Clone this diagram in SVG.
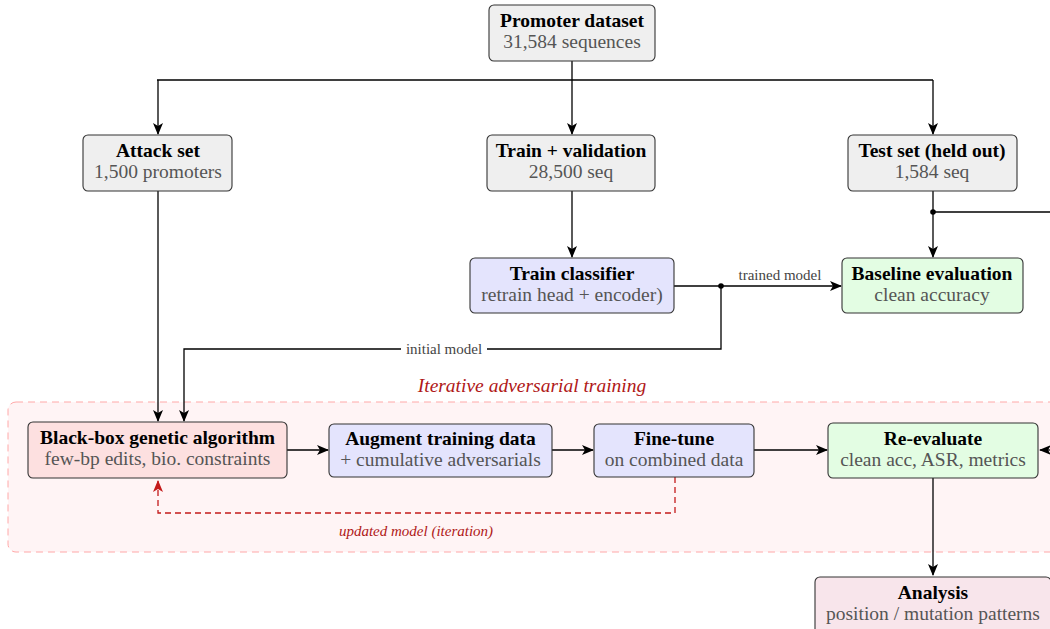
<svg xmlns="http://www.w3.org/2000/svg" width="1050" height="629" viewBox="0 0 1050 629">
<style>
.box{stroke:#333;stroke-width:1.1}
.grey{fill:#efefef}
.blue{fill:#e4e4fd}
.green{fill:#e3fde3}
.red{fill:#fde0e0}
.pink{fill:#f8e5eb}
.t{font-family:"Liberation Serif",serif;font-size:19.5px;font-weight:bold;fill:#000;text-anchor:middle}
.s{font-family:"Liberation Serif",serif;font-size:19.5px;fill:#555;text-anchor:middle}
.lbl{font-family:"Liberation Serif",serif;font-size:15px;fill:#444;text-anchor:middle}
.it{font-family:"Liberation Serif",serif;font-style:italic;fill:#b01818;text-anchor:middle}
.c{fill:none;stroke:#000;stroke-width:1.3}
.d{fill:none;stroke:#c41a1a;stroke-width:1.3;stroke-dasharray:6,4}
</style>
<defs>
<marker id="ah" viewBox="0 0 12 10" refX="11" refY="5" markerWidth="12" markerHeight="10" markerUnits="userSpaceOnUse" orient="auto">
<path d="M0,0 L12,5 L0,10 L3,5 z" fill="#000"/>
</marker>
<marker id="ahr" viewBox="0 0 12 10" refX="11" refY="5" markerWidth="12" markerHeight="10" markerUnits="userSpaceOnUse" orient="auto">
<path d="M0,0 L12,5 L0,10 L3,5 z" fill="#c41a1a"/>
</marker>
</defs>
<rect width="1050" height="629" fill="#fff"/>
<g id="region">
<rect x="8" y="402" width="1060" height="150" rx="8" fill="#fff4f5" stroke="#ffa8a8" stroke-width="1" stroke-dasharray="7,5"/>
<text class="it" x="532" y="392" font-size="19.5">Iterative adversarial training</text>
</g>
<g id="connectors">
<path class="c" d="M572,61 V80 M157,80 H933"/>
<path class="c" d="M158,80 V134" marker-end="url(#ah)"/>
<path class="c" d="M572,80 V134" marker-end="url(#ah)"/>
<path class="c" d="M933,80 V134" marker-end="url(#ah)"/>
<path class="c" d="M572,191 V257" marker-end="url(#ah)"/>
<path class="c" d="M933,191 V257" marker-end="url(#ah)"/>
<path class="c" d="M933,212 H1050"/>
<circle cx="933" cy="212" r="2.8" fill="#000"/>
<path class="c" d="M674,286 H841" marker-end="url(#ah)"/>
<circle cx="721" cy="286" r="2.8" fill="#000"/>
<text class="lbl" x="780" y="280">trained model</text>
<path class="c" d="M721,286 V349 H184 V421" marker-end="url(#ah)"/>
<rect x="401" y="340" width="86" height="18" fill="#fff"/>
<text class="lbl" x="444" y="354">initial model</text>
<path class="c" d="M158,191 V421" marker-end="url(#ah)"/>
<path class="c" d="M287,450 H328" marker-end="url(#ah)"/>
<path class="c" d="M552,450 H593" marker-end="url(#ah)"/>
<path class="c" d="M754,450 H827" marker-end="url(#ah)"/>
<path class="c" d="M1050,450 H1040" marker-end="url(#ah)"/>
<path class="c" d="M933,478 V575" marker-end="url(#ah)"/>
<path class="d" d="M675,477 V513 H158 V481" marker-end="url(#ahr)"/>
<text class="it" x="416" y="536" font-size="15">updated model (iteration)</text>
</g>
<g id="promoter">
<rect class="box grey" x="489" y="5" width="166" height="56" rx="5"/>
<text class="t" x="572" y="27">Promoter dataset</text>
<text class="s" x="572" y="48">31,584 sequences</text>
</g>
<g id="attack">
<rect class="box grey" x="83" y="135" width="149" height="56" rx="5"/>
<text class="t" x="158" y="157">Attack set</text>
<text class="s" x="158" y="178">1,500 promoters</text>
</g>
<g id="trainval">
<rect class="box grey" x="487" y="135" width="168" height="56" rx="5"/>
<text class="t" x="571" y="157">Train + validation</text>
<text class="s" x="571" y="178">28,500 seq</text>
</g>
<g id="testset">
<rect class="box grey" x="848" y="135" width="169" height="56" rx="5"/>
<text class="t" x="932" y="157">Test set (held out)</text>
<text class="s" x="932" y="178">1,584 seq</text>
</g>
<g id="trainclf">
<rect class="box blue" x="470" y="258" width="204" height="55" rx="5"/>
<text class="t" x="572" y="280">Train classifier</text>
<text class="s" x="572" y="301">retrain head + encoder)</text>
</g>
<g id="baseline">
<rect class="box green" x="842" y="258" width="181" height="55" rx="5"/>
<text class="t" x="932" y="280">Baseline evaluation</text>
<text class="s" x="932" y="301">clean accuracy</text>
</g>
<g id="blackbox">
<rect class="box red" x="28" y="422" width="259" height="56" rx="5"/>
<text class="t" x="157.5" y="444">Black-box genetic algorithm</text>
<text class="s" x="157.5" y="465">few-bp edits, bio. constraints</text>
</g>
<g id="augment">
<rect class="box blue" x="329" y="424" width="223" height="53" rx="5"/>
<text class="t" x="440.5" y="445">Augment training data</text>
<text class="s" x="440.5" y="466">+ cumulative adversarials</text>
</g>
<g id="finetune">
<rect class="box blue" x="594" y="424" width="160" height="53" rx="5"/>
<text class="t" x="674" y="445">Fine-tune</text>
<text class="s" x="674" y="466">on combined data</text>
</g>
<g id="reeval">
<rect class="box green" x="828" y="423" width="210" height="55" rx="5"/>
<text class="t" x="933" y="445">Re-evaluate</text>
<text class="s" x="933" y="466">clean acc, ASR, metrics</text>
</g>
<g id="analysis">
<rect class="box pink" x="815" y="577" width="236" height="58" rx="5"/>
<text class="t" x="933" y="599">Analysis</text>
<text class="s" x="933" y="620">position / mutation patterns</text>
</g>
</svg>
